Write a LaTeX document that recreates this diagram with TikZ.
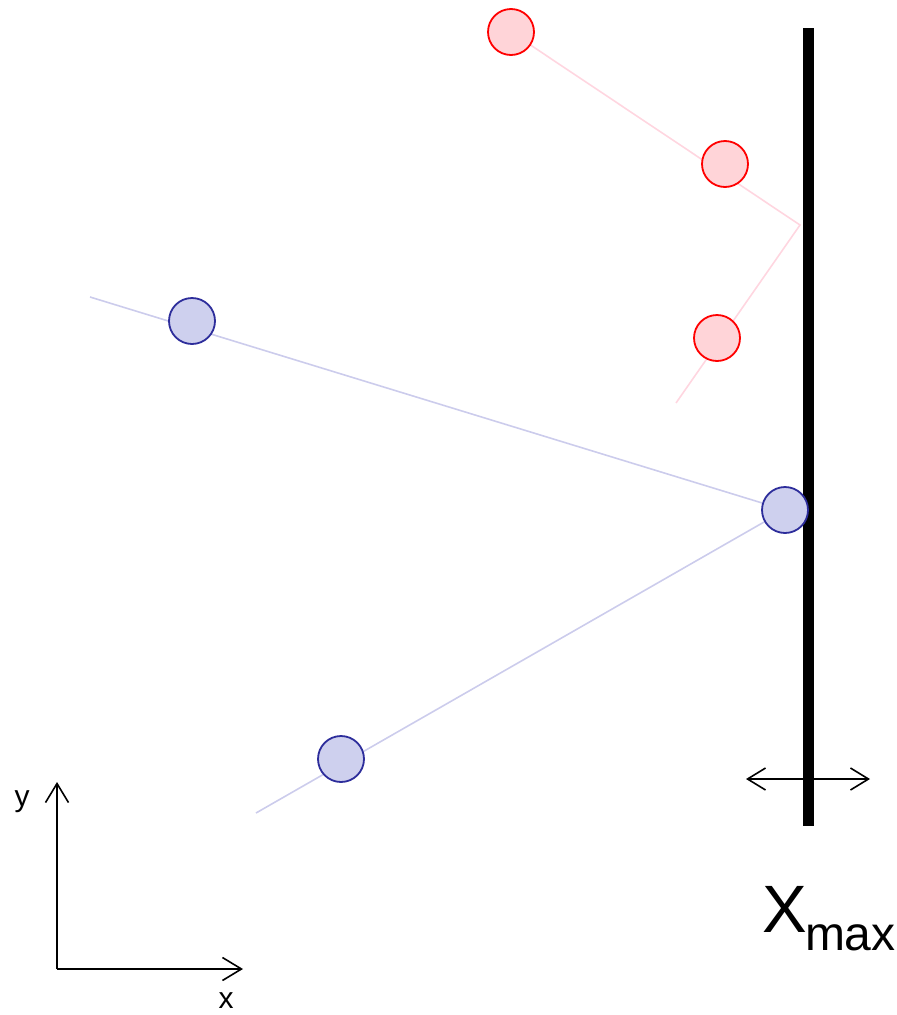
\documentclass[tikz,border=0pt]{standalone}
\usepackage{fontspec}
\setmainfont{Liberation Sans}
\usepackage{tikz}
\usetikzlibrary{arrows.meta}

\definecolor{ballred}{RGB}{255,212,216}
\definecolor{pathred}{RGB}{255,214,224}
\definecolor{ballblue}{RGB}{206,208,238}
\definecolor{rimblue}{RGB}{45,45,155}
\definecolor{pathblue}{RGB}{204,204,236}

\begin{document}
\begin{tikzpicture}[
  x=1pt, y=-1pt,
  redball/.style={
    circle,
    draw=red,
    fill=ballred,
    line width=1.8pt,
    minimum size=46pt,
    inner sep=0pt
  },
  blueball/.style={
    circle,
    draw=rimblue,
    fill=ballblue,
    line width=1.8pt,
    minimum size=46pt,
    inner sep=0pt
  },
  track/.style={line width=1.6pt},
  arr/.style={-{Straight Barb[length=19pt,width=23pt]}, line width=1.6pt},
  dbl/.style={{Straight Barb[length=18pt,width=22pt]}-{Straight Barb[length=18pt,width=22pt]}, line width=1.6pt}
]
\useasboundingbox (0,0) rectangle (897,1015);

% where things sit
\coordinate (r1) at (511,32);
\coordinate (r2) at (725,164);
\coordinate (r3) at (717,338);
\coordinate (rhit) at (800,225);
\coordinate (rend) at (676,403);
\coordinate (bstart) at (90,297);
\coordinate (b1) at (192,321);
\coordinate (b2) at (785,510);
\coordinate (b3) at (341,759);
\coordinate (bend) at (256,813);

% paths
\draw[track, pathred] (r1) -- (rhit) -- (rend);
\draw[track, pathblue] (bstart) -- (b2) -- (bend);

% wall
\coordinate (wtop) at (808,28);
\coordinate (wbot) at (808,826);
\draw[line width=11pt] (wtop) -- (wbot);

% particles
\node[redball] (p1) at (r1) {};
\node[redball] (p2) at (r2) {};
\node[redball] (p3) at (r3) {};
\node[blueball] (q1) at (b1) {};
\node[blueball] (q2) at (b2) {};
\node[blueball] (q3) at (b3) {};

% wall moves
\coordinate (ml) at (746,779);
\coordinate (mr) at (870,779);
\draw[dbl] (ml) -- (mr);

\node[anchor=base, inner sep=0pt] (xmax) at (829,932)
  {\fontsize{67}{67}\selectfont X\kern-2pt\raisebox{-18pt}{\fontsize{48}{48}\selectfont max}};

% axes
\coordinate (o) at (57,969);
\coordinate (ytip) at (57,782);
\coordinate (xtip) at (243,969);
\draw[arr] (o) -- (ytip);
\draw[arr] (o) -- (xtip);
\node[anchor=base, inner sep=0pt, font=\fontsize{30}{30}\selectfont] (ylab) at (22,806) {y};
\node[anchor=base, inner sep=0pt, font=\fontsize{30}{30}\selectfont] (xlab) at (226,1008) {x};
\end{tikzpicture}
\end{document}
